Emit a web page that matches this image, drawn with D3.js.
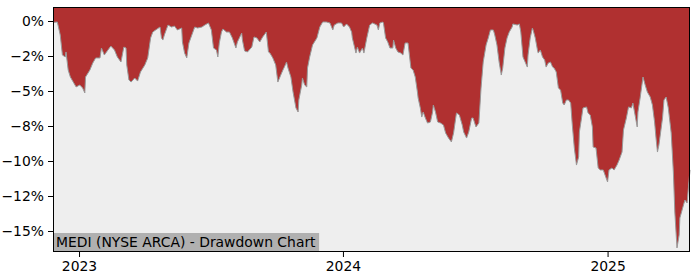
<!DOCTYPE html>
<html>
<head>
<meta charset="utf-8">
<script src="https://cdn.jsdelivr.net/npm/d3@7"></script>
<style>
  html, body { margin: 0; padding: 0; background: #fff; }
  svg { display: block; font-family: "DejaVu Sans", sans-serif; }
</style>
</head>
<body>
<div id="chart"></div>
<script>
// drawdown series (percent)
var dates = [
  "2022-11-26","2022-12-02","2022-12-06","2022-12-09","2022-12-13","2022-12-14","2022-12-17","2022-12-20","2022-12-24","2022-12-28",
  "2023-01-02","2023-01-06","2023-01-09","2023-01-10","2023-01-16","2023-01-20","2023-01-24","2023-01-30","2023-02-01","2023-02-05",
  "2023-02-10","2023-02-14","2023-02-19","2023-02-23","2023-02-28","2023-03-04","2023-03-07","2023-03-08","2023-03-11","2023-03-14",
  "2023-03-19","2023-03-23","2023-03-27","2023-04-02","2023-04-06","2023-04-10","2023-04-13","2023-04-17","2023-04-23","2023-04-25",
  "2023-04-27","2023-04-29","2023-05-04","2023-05-09","2023-05-13","2023-05-17","2023-05-23","2023-05-24","2023-05-27","2023-05-30",
  "2023-06-02","2023-06-06","2023-06-10","2023-06-14","2023-06-20","2023-06-24","2023-06-29","2023-07-03","2023-07-06","2023-07-10",
  "2023-07-12","2023-07-14","2023-07-17","2023-07-19","2023-07-24","2023-07-28","2023-08-01","2023-08-06","2023-08-08","2023-08-14",
  "2023-08-15","2023-08-18","2023-08-22","2023-08-28","2023-08-31","2023-09-04","2023-09-08","2023-09-12","2023-09-17","2023-09-20",
  "2023-09-22","2023-09-26","2023-09-30","2023-10-03","2023-10-07","2023-10-10","2023-10-12","2023-10-15","2023-10-17","2023-10-21",
  "2023-10-24","2023-10-28","2023-10-31","2023-11-01","2023-11-05","2023-11-06","2023-11-09","2023-11-12","2023-11-13","2023-11-16",
  "2023-11-20","2023-11-26","2023-11-30","2023-12-04","2023-12-09","2023-12-14","2023-12-18","2023-12-20","2023-12-25","2023-12-30",
  "2024-01-02","2024-01-06","2024-01-10","2024-01-13","2024-01-14","2024-01-19","2024-01-21","2024-01-24","2024-01-28","2024-01-30",
  "2024-02-03","2024-02-07","2024-02-11","2024-02-17","2024-02-19","2024-02-21","2024-02-25","2024-02-26","2024-02-29","2024-03-03",
  "2024-03-06","2024-03-10","2024-03-11","2024-03-14","2024-03-17","2024-03-21","2024-03-24","2024-03-27","2024-03-31","2024-04-04",
  "2024-04-07","2024-04-10","2024-04-13","2024-04-14","2024-04-17","2024-04-19","2024-04-21","2024-04-24","2024-04-27","2024-05-01",
  "2024-05-04","2024-05-05","2024-05-08","2024-05-11","2024-05-15","2024-05-19","2024-05-22","2024-05-26","2024-05-30","2024-06-02",
  "2024-06-06","2024-06-10","2024-06-14","2024-06-16","2024-06-20","2024-06-23","2024-06-27","2024-06-29","2024-07-03","2024-07-07",
  "2024-07-10","2024-07-13","2024-07-17","2024-07-20","2024-07-23","2024-07-27","2024-07-29","2024-08-01","2024-08-04","2024-08-07",
  "2024-08-09","2024-08-12","2024-08-15","2024-08-18","2024-08-22","2024-08-23","2024-08-29","2024-09-01","2024-09-03","2024-09-06",
  "2024-09-09","2024-09-12","2024-09-13","2024-09-16","2024-09-19","2024-09-20","2024-09-23","2024-09-26","2024-09-27","2024-09-30",
  "2024-10-03","2024-10-06","2024-10-08","2024-10-11","2024-10-14","2024-10-17","2024-10-19","2024-10-22","2024-10-25","2024-10-28",
  "2024-10-31","2024-11-02","2024-11-05","2024-11-08","2024-11-11","2024-11-13","2024-11-16","2024-11-19","2024-11-22","2024-11-23",
  "2024-11-26","2024-11-28","2024-12-03","2024-12-05","2024-12-08","2024-12-11","2024-12-12","2024-12-16","2024-12-19","2024-12-22",
  "2024-12-26","2025-01-01","2025-01-03","2025-01-07","2025-01-10","2025-01-14","2025-01-17","2025-01-21","2025-01-23","2025-01-27",
  "2025-01-30","2025-02-03","2025-02-05","2025-02-08","2025-02-11","2025-02-12","2025-02-15","2025-02-19","2025-02-22","2025-02-25",
  "2025-03-01","2025-03-04","2025-03-07","2025-03-09","2025-03-11","2025-03-13","2025-03-18","2025-03-20","2025-03-23","2025-03-26",
  "2025-03-30","2025-04-02","2025-04-04","2025-04-07","2025-04-10","2025-04-11","2025-04-16","2025-04-18","2025-04-21","2025-04-24",
  "2025-04-25"
];
var drawdown = [
  -0.1,-0.07,-1.0,-2.43,-2.57,-2.21,-3.5,-4.0,-4.36,-4.71,
  -4.57,-4.79,-5.14,-4.0,-3.5,-3.0,-2.64,-2.64,-1.93,-2.43,
  -2.07,-1.79,-2.07,-2.57,-2.93,-1.86,-1.93,-3.14,-4.21,-4.36,
  -4.07,-4.29,-3.64,-3.14,-2.64,-1.21,-0.79,-0.64,-0.43,-1.21,
  -1.36,-1.0,-0.29,-0.43,-0.36,-0.64,-0.5,-1.5,-2.29,-2.64,
  -1.57,-1.0,-0.43,-0.5,-0.43,-0.29,-0.14,-0.64,-1.93,-2.07,
  -2.57,-1.57,-0.79,-0.57,-0.79,-0.79,-1.21,-1.93,-1.5,-0.86,
  -1.36,-2.14,-2.21,-1.86,-1.14,-1.21,-1.5,-1.14,-0.79,-2.21,
  -2.29,-2.64,-3.14,-4.36,-3.86,-3.5,-3.29,-2.93,-3.36,-4.0,
  -5.07,-6.21,-6.5,-5.64,-4.57,-4.07,-4.57,-4.71,-3.36,-2.57,
  -1.71,-1.21,-0.43,-0.07,-0.07,-0.14,-0.64,-0.29,-0.14,-0.14,
  -0.43,-0.21,-0.43,-0.79,-1.21,-2.29,-1.86,-2.29,-1.93,-2.29,
  -1.21,-0.29,-0.14,-0.29,-0.64,-0.14,-0.07,-0.14,-1.21,-1.5,
  -1.93,-1.93,-1.36,-1.93,-2.21,-2.29,-2.43,-1.57,-1.57,-3.36,
  -3.5,-4.0,-5.07,-5.5,-6.21,-6.86,-6.5,-6.93,-7.29,-7.21,
  -6.5,-6.0,-6.5,-7.21,-7.29,-7.43,-8.0,-8.36,-8.64,-8.0,
  -6.57,-6.71,-7.43,-7.93,-8.36,-7.93,-6.93,-6.93,-7.57,-7.29,
  -4.79,-2.93,-1.71,-1.21,-0.64,-0.64,-1.0,-1.71,-2.93,-3.86,
  -3.36,-1.93,-1.21,-0.79,-0.43,-0.21,-0.29,-0.21,-0.79,-2.57,
  -2.93,-3.29,-2.43,-1.21,-0.5,-0.64,-1.21,-2.07,-2.29,-2.07,
  -2.57,-2.79,-3.29,-3.0,-2.93,-3.29,-3.36,-3.64,-4.79,-4.93,
  -5.86,-6.0,-5.64,-5.64,-5.86,-7.29,-9.07,-10.29,-9.71,-7.93,
  -6.93,-6.21,-6.14,-6.57,-6.71,-7.57,-9.0,-9.07,-10.5,-10.64,
  -10.64,-11.5,-10.64,-10.5,-10.64,-10.29,-9.93,-9.36,-7.79,-6.93,
  -6.14,-6.21,-5.86,-6.71,-7.57,-6.5,-5.5,-4.0,-4.57,-5.07,
  -5.43,-6.0,-7.21,-8.36,-9.36,-8.86,-6.93,-5.64,-5.43,-6.21,
  -8.0,-10.79,-13.64,-16.21,-15.29,-14.07,-13.14,-12.79,-13.0,-11.21,
  -10.64
];

var yTicks = [0, -2.5, -5, -7.5, -10, -12.5, -15];
var yTickLabels = ["0%", "\u22122%", "\u22125%", "\u22128%", "\u221210%", "\u221212%", "\u221215%"];
var xTicks = ["2023-01-01", "2024-01-01", "2025-01-01"];
var xTickLabels = ["2023", "2024", "2025"];
var title = "MEDI (NYSE ARCA) - Drawdown Chart";

var W = 700, H = 280;
var margin = { left: 53, right: 10, top: 7, bottom: 28 };
var FONT = "13.9px";
var parse = d3.timeParse("%Y-%m-%d");

var data = dates.map(function(d, i) { return { date: parse(d), v: drawdown[i] }; });

var svg = d3.select("#chart").append("svg").attr("width", W).attr("height", H);

var x = d3.scaleTime()
  .domain(d3.extent(data, function(d) { return d.date; }))
  .range([margin.left, W - margin.right]);
var y = d3.scaleLinear()
  .domain([-16.5, 1])
  .range([H - margin.bottom, margin.top]);

var plotW = W - margin.right - margin.left, plotH = H - margin.bottom - margin.top;

// red background, light fill under the drawdown line
svg.append("rect").attr("x", margin.left).attr("y", margin.top)
  .attr("width", plotW).attr("height", plotH).attr("fill", "#b03030");

var area = d3.area()
  .x(function(d) { return x(d.date); })
  .y0(H - margin.bottom)
  .y1(function(d) { return y(d.v); });
svg.append("path").datum(data).attr("d", area).attr("fill", "#eeeeee");

var line = d3.line()
  .x(function(d) { return x(d.date); })
  .y(function(d) { return y(d.v); });
svg.append("path").datum(data).attr("d", line)
  .attr("fill", "none").attr("stroke", "#999999").attr("stroke-width", 1);

// title box at lower left
var tg = svg.append("g");
var tbg = tg.append("rect").attr("fill", "#b0b0b0");
var tt = tg.append("text").attr("x", margin.left + 3).attr("y", H - margin.bottom - 5)
  .attr("font-size", FONT).attr("fill", "#000").text(title);
var bb = tt.node().getBBox();
tbg.attr("x", margin.left).attr("y", H - margin.bottom - 19)
  .attr("width", bb.width + 6).attr("height", 19);

// axes
var yAxis = d3.axisLeft(y).tickValues(yTicks).tickSize(5).tickPadding(4)
  .tickFormat(function(d, i) { return yTickLabels[i]; });
var xAxis = d3.axisBottom(x).tickValues(xTicks.map(parse)).tickSize(5).tickPadding(4)
  .tickFormat(function(d, i) { return xTickLabels[i]; });

var gy = svg.append("g").attr("transform", "translate(" + margin.left + ",0)").call(yAxis);
var gx = svg.append("g").attr("transform", "translate(0," + (H - margin.bottom) + ")").call(xAxis);
[gx, gy].forEach(function(g) {
  g.select(".domain").remove();
  g.selectAll("text").attr("font-size", FONT).attr("font-family", "DejaVu Sans").attr("fill", "#000");
  g.selectAll("line").attr("stroke", "#000");
});

// frame
svg.append("rect").attr("x", margin.left + 0.5).attr("y", margin.top + 0.5)
  .attr("width", plotW - 1).attr("height", plotH - 1)
  .attr("fill", "none").attr("stroke", "#000").attr("stroke-width", 1);
</script>
</body>
</html>
